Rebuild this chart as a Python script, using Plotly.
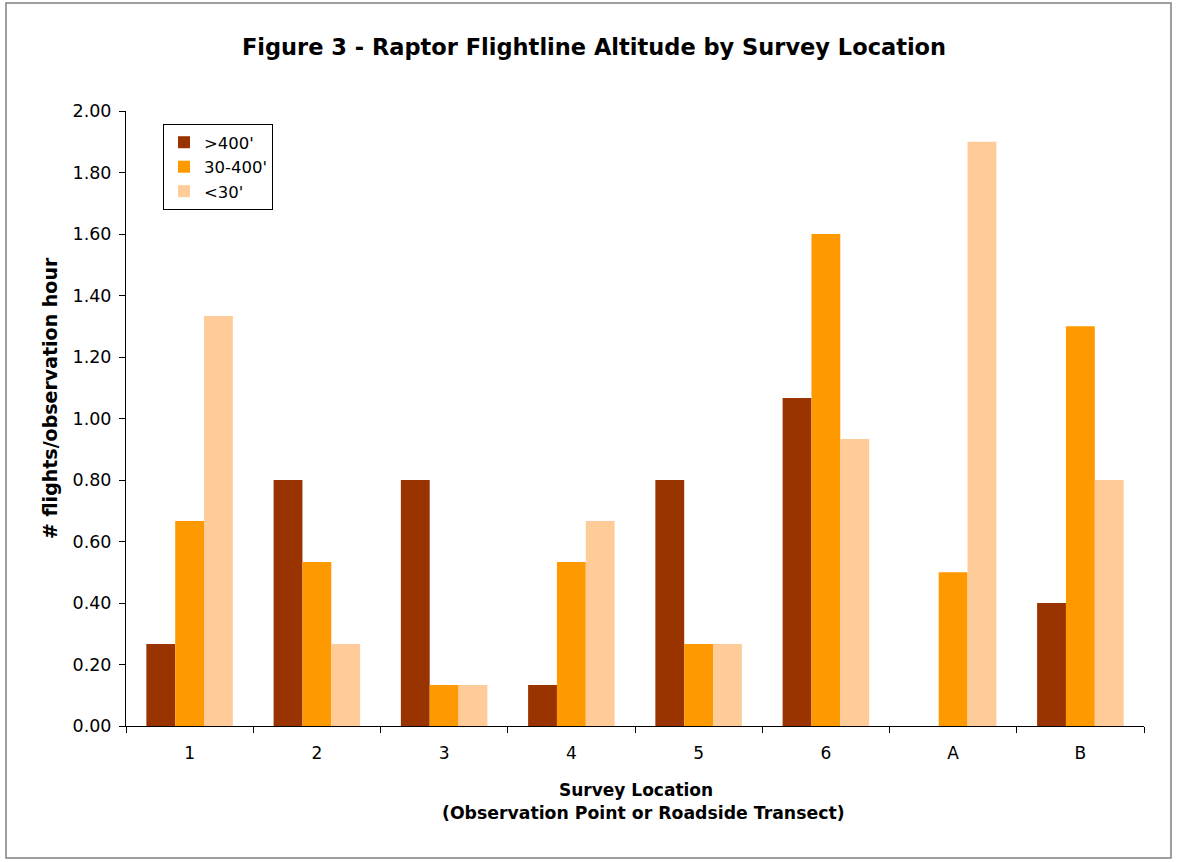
import plotly.graph_objects as go

categories = ["1", "2", "3", "4", "5", "6", "A", "B"]
series_names = [">400'", "30-400'", "<30'"]
above_400 = [0.267, 0.80, 0.80, 0.133, 0.80, 1.067, 0.0, 0.40]
mid_30_400 = [0.667, 0.533, 0.133, 0.533, 0.267, 1.60, 0.50, 1.30]
below_30 = [1.333, 0.267, 0.133, 0.667, 0.267, 0.933, 1.90, 0.80]
colors = ["#993300", "#FF9900", "#FFCC99"]
y_ticks = [0, 0.2, 0.4, 0.6, 0.8, 1.0, 1.2, 1.4, 1.6, 1.8, 2.0]

W, H = 1177, 862
L, R, T, B = 126, 1144, 111, 726
FONT = "DejaVu Sans"

fig = go.Figure()
for name, vals, c in zip(series_names, [above_400, mid_30_400, below_30], colors):
    fig.add_trace(go.Bar(x=categories, y=vals, name=name, marker=dict(color=c, line=dict(width=0))))

def px(x):
    return (x - L) / (R - L)

def py(y):
    return (B - y) / (B - T)

fig.update_layout(
    width=W, height=H,
    margin=dict(l=L, r=W - R, t=T, b=H - B, autoexpand=False),
    paper_bgcolor="white", plot_bgcolor="white",
    barmode="group", bargap=0.32, bargroupgap=0,
    font=dict(family=FONT, size=17, color="black"),
    title=dict(text="<b>Figure 3 - Raptor Flightline Altitude by Survey Location</b>",
               x=594 / W, xref="container", xanchor="center",
               y=1 - 47 / H, yref="container", yanchor="middle",
               font=dict(family=FONT, size=22.5, color="black")),
    showlegend=True,
    legend=dict(x=px(163), y=py(124), xanchor="left", yanchor="top",
                bordercolor="black", borderwidth=1, bgcolor="white",
                font=dict(family=FONT, size=16.5), traceorder="normal",
                itemwidth=30, tracegroupgap=0),
    xaxis=dict(showline=True, linecolor="black", linewidth=1, ticks="outside",
               tickson="boundaries", ticklen=6, tickcolor="black",
               showgrid=False, tickfont=dict(family=FONT, size=17), zeroline=False,
               ticklabelstandoff=12),
    yaxis=dict(range=[0, 2.0], tickvals=y_ticks, tickformat=".2f",
               showline=True, linecolor="black", linewidth=1, ticks="outside",
               ticklen=6, tickcolor="black", showgrid=False, zeroline=False,
               tickfont=dict(family=FONT, size=17.5), ticklabelstandoff=4),
)

fig.add_annotation(text="<b>Survey Location</b>", xref="paper", yref="paper",
                   x=px(636), y=py(790), showarrow=False, xanchor="center", yanchor="middle",
                   font=dict(family=FONT, size=17))
fig.add_annotation(text="<b>(Observation Point or Roadside Transect)</b>", xref="paper", yref="paper",
                   x=px(643), y=py(813), showarrow=False, xanchor="center", yanchor="middle",
                   font=dict(family=FONT, size=17.3))
fig.add_annotation(text="<b># flights/observation hour</b>", xref="paper", yref="paper",
                   x=px(50), y=py(398), showarrow=False, textangle=-90,
                   xanchor="center", yanchor="middle", font=dict(family=FONT, size=19))

fig.add_shape(type="rect", xref="paper", yref="paper",
              x0=px(6), x1=px(1171), y0=py(3), y1=py(858),
              line=dict(color="#808080", width=1.5), fillcolor="rgba(0,0,0,0)", layer="below")

fig.write_html("out.html", config={"displayModeBar": False},
               post_script="document.body.style.margin='0';document.body.style.overflow='hidden';")
